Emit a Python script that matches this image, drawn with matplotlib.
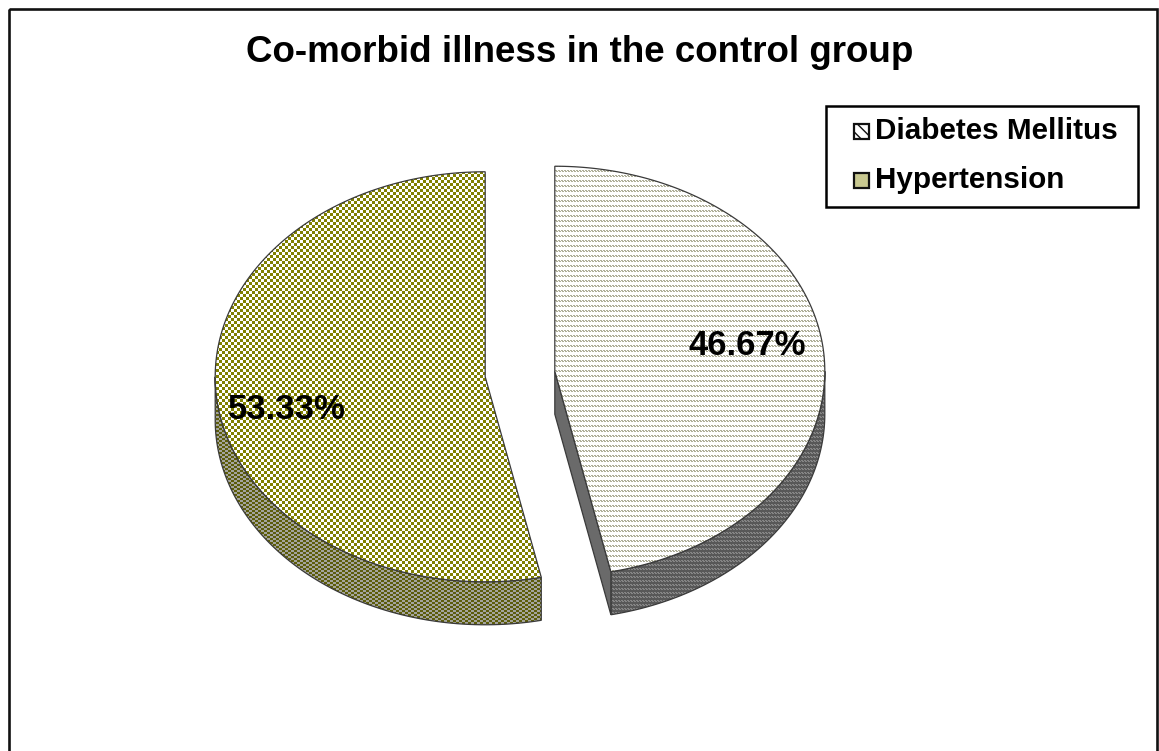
import numpy as np
import matplotlib
matplotlib.use("Agg")
import matplotlib.pyplot as plt
from matplotlib.patches import Polygon, Rectangle
from matplotlib.colors import to_rgb

plt.rcParams["font.family"] = ["Liberation Sans", "DejaVu Sans"]

# ---- data ----
title = "Co-morbid illness in the control group"
labels = ["Diabetes Mellitus", "Hypertension"]
shares = [46.67, 53.33]          # percent

W, H = 1159, 751
fig = plt.figure(figsize=(W / 100, H / 100), dpi=100)
ax = fig.add_axes([0, 0, 1, 1])
ax.set_xlim(0, W); ax.set_ylim(H, 0); ax.axis("off")

# pie geometry (pixel space, y down)
CX, CY = 520, 374
A, B = 270, 205        # semi-axes of the top face
DEPTH = 43
EXPLODE = 35
EDGE = "#3a3a3a"

yy, xx = np.mgrid[0:H, 0:W]


def checker(c1, c2, cw=3, ch=3):
    m = ((xx // cw + yy // ch) % 2).astype(bool)
    img = np.empty((H, W, 3)); img[:] = to_rgb(c2); img[m] = to_rgb(c1)
    return img


def stripes(bg, fg, period=5):
    r = yy % period
    m = ((r == 0) & ((xx + 1) % 3 != 0)) | ((r == 1) & (xx % 3 != 0))
    img = np.empty((H, W, 3)); img[:] = to_rgb(bg); img[m] = to_rgb(fg)
    return img


def textured(pts, img, z, lw=0.9):
    poly = Polygon(pts, closed=True, facecolor="none", edgecolor=EDGE, lw=lw, zorder=z + 0.5)
    ax.add_patch(poly)
    im = ax.imshow(img, extent=(0, W, H, 0), interpolation="nearest", aspect="auto", zorder=z)
    im.set_clip_path(poly)


def rim(cx, cy, t, dz=0.0):
    t = np.radians(t)
    return np.column_stack([cx + A * np.sin(t), cy - B * np.cos(t) + dz])


top_tex = [stripes("#ffffff", "#aeae98"), checker("#808000", "#ffffff")]
wall_tex = [stripes("#585858", "#858585", period=4), checker("#5c5c0c", "#a4a49c", cw=3, ch=2)]
cut_col = ["#6a6a6a", "#6e6e1e"]

bounds = np.concatenate([[0], np.cumsum(shares)]) / 100 * 360
slices = []
for i, s in enumerate(shares):
    t0, t1 = bounds[i], bounds[i + 1]
    mid = np.radians((t0 + t1) / 2)
    cx = CX + EXPLODE * np.sin(mid)
    cy = CY - EXPLODE * np.cos(mid) * B / A
    slices.append((t0, t1, cx, cy))

# side walls first
for i, (t0, t1, cx, cy) in enumerate(slices):
    ws, we = max(t0, 90), min(t1, 270)
    if we > ws:
        ts = np.linspace(ws, we, 200)
        pts = np.vstack([rim(cx, cy, ts), rim(cx, cy, ts[::-1], DEPTH)])
        textured(pts, wall_tex[i], 1)
    # radial cut faces seen from the front
    for t, show in ((t1, 0 < t1 < 180), (t0, 180 < t0 < 360)):
        if show:
            p = rim(cx, cy, [t])[0]
            pts = [(cx, cy), p, (p[0], p[1] + DEPTH), (cx, cy + DEPTH)]
            ax.add_patch(Polygon(pts, closed=True, facecolor=cut_col[i], edgecolor=EDGE,
                                 lw=0.9, zorder=1.6))

# top faces
for i, (t0, t1, cx, cy) in enumerate(slices):
    ts = np.linspace(t0, t1, 300)
    pts = np.vstack([[cx, cy], rim(cx, cy, ts)])
    textured(pts, top_tex[i], 3)

# percentage labels on the top faces
lab_r = [0.715, 0.74]
lab_dy = [-10, 17]
for i, (t0, t1, cx, cy) in enumerate(slices):
    mid = np.radians((t0 + t1) / 2)
    lx = cx + lab_r[i] * A * np.sin(mid)
    ly = cy - lab_r[i] * B * np.cos(mid) + lab_dy[i]
    ax.text(lx, ly, f"{shares[i]:.2f}%", fontsize=25, fontweight="bold",
            ha="center", va="center", zorder=6)

ax.text(580, 52, title, fontsize=26.5, fontweight="bold", ha="center", va="center")

# outer chart border
ax.add_patch(Rectangle((9, 9), 1148, 760, facecolor="none", edgecolor="#111111", lw=1.9,
                       zorder=10, clip_on=False))

# legend box
ax.add_patch(Rectangle((826, 106), 312, 101, facecolor="white", edgecolor="#000000",
                       lw=1.8, zorder=8))
key_face = ["#ffffff", "#c8c890"]
key_hatch = ["\\\\\\", None]
for i, lab in enumerate(labels):
    ry = 131 + i * 49
    ax.add_patch(Rectangle((854, ry - 7.5), 15, 15, facecolor=key_face[i], edgecolor="#111111",
                           hatch=key_hatch[i], lw=1.6, zorder=9))
    ax.text(875, ry, lab, fontsize=21.3, fontweight="bold", ha="left", va="center", zorder=9)

fig.savefig("out.png", dpi=100, facecolor="white")
